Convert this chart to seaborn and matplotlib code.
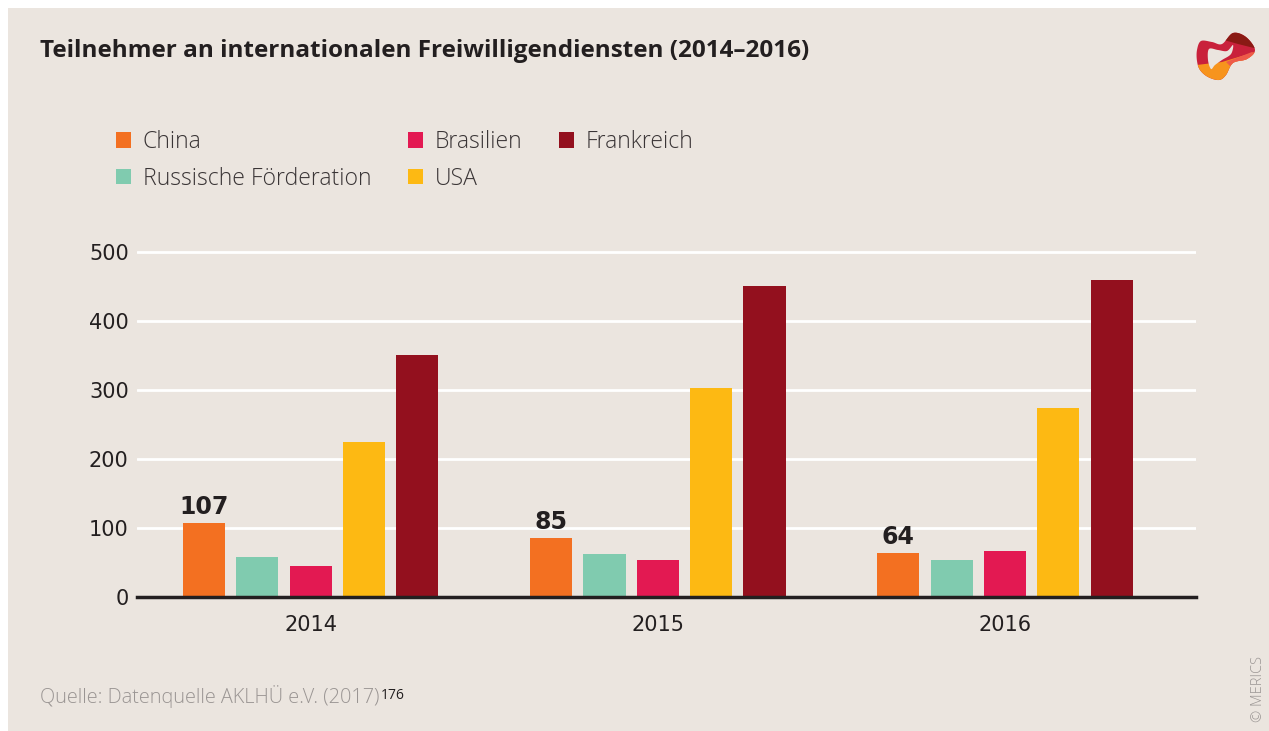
import numpy as np
import pandas as pd
import matplotlib
matplotlib.use("Agg")
import matplotlib.pyplot as plt
from matplotlib.patches import Rectangle, Patch, Polygon
import seaborn as sns

# Werte
jahre = ["2014", "2015", "2016"]
laender = ["China", "Russische Förderation", "Brasilien", "USA", "Frankreich"]
china = [107, 85, 64]
russland = [58, 62, 53]
brasilien = [45, 53, 67]
usa = [225, 303, 274]
frankreich = [350, 451, 459]
farben = ["#F37021", "#80CBAF", "#E31952", "#FDB913", "#93101E"]

werte = [china, russland, brasilien, usa, frankreich]
df = pd.DataFrame({
    "Jahr": np.tile(jahre, len(laender)),
    "Land": np.repeat(laender, len(jahre)),
    "Teilnehmer": np.concatenate(werte),
})

sns.set_style("white")
plt.rcParams["font.family"] = ["DejaVu Sans"]

bg = "#EBE5DF"
dunkel = "#231F20"
grau = "#9A9593"
W, H = 1269, 731

fig = plt.figure(figsize=(12.69, 7.31), dpi=100, facecolor="white")
fig.patches.append(Rectangle((8 / W, 0), 1, 723 / H, transform=fig.transFigure,
                             facecolor=bg, edgecolor="none", zorder=-10))

ax = fig.add_axes([137 / W, 134 / H, (1196 - 137) / W, 352 / H])
ax.patch.set_alpha(0)

sns.barplot(data=df, x="Jahr", y="Teilnehmer", hue="Land", hue_order=laender,
            palette=farben, saturation=1, width=0.768, gap=0.21, linewidth=0,
            errorbar=None, legend=False, ax=ax)

ax.set_xlim(-0.5, 2.55)
ax.set_ylim(0, 510)
ax.set_yticks(range(0, 501, 100))
ax.yaxis.grid(True, color="white", lw=2)
ax.xaxis.grid(False)
ax.set_axisbelow(True)
for s in ["top", "right", "left"]:
    ax.spines[s].set_visible(False)
ax.spines["bottom"].set_color(dunkel)
ax.spines["bottom"].set_linewidth(2.5)
ax.spines["bottom"].set_zorder(5)
ax.tick_params(axis="both", length=0, labelsize=15, labelcolor=dunkel)
ax.tick_params(axis="y", pad=6)
ax.tick_params(axis="x", pad=13)
ax.set_xlabel("")
ax.set_ylabel("")

ax.bar_label(ax.containers[0], padding=3, fontsize=17, fontweight="bold", color=dunkel)

fig.text(40 / W, 1 - 51 / H, "Teilnehmer an internationalen Freiwilligendiensten (2014–2016)",
         fontsize=17.5, fontweight="bold", color=dunkel, va="center", ha="left",
         family=["Open Sans", "DejaVu Sans"])

handles = [Patch(facecolor=c, edgecolor="none") for c in farben]
fig.legend(handles, laender, ncol=3, loc="upper left", bbox_to_anchor=(107 / W, 1 - 121 / H),
           frameon=False, borderaxespad=0, handlelength=0.65, handleheight=0.65, handletextpad=0.5,
           columnspacing=1.6, labelspacing=0.55, labelcolor="#3A3536",
           prop={"family": ["Open Sans", "DejaVu Sans"], "weight": "light", "size": 16.6})

t = fig.text(40 / W, 1 - 697 / H, "Quelle: Datenquelle AKLHÜ e.V. (2017)", fontsize=14.3,
             color=grau, va="center", ha="left", family=["Open Sans", "DejaVu Sans"],
             fontweight="light")
ax.annotate("176", xy=(1.003, 0.88), xycoords=t, fontsize=10, color=dunkel, va="top", ha="left",
            family=["Open Sans", "DejaVu Sans"], annotation_clip=False)

fig.text(1258 / W, 1 - 689 / H, "© MERICS", rotation=90, fontsize=10.5, color=grau,
         va="center", ha="center", family=["Open Sans", "DejaVu Sans"], fontweight="light")


# Logo oben rechts, grob nachgezeichnet
def glatt(pts):
    pts = np.asarray(pts, dtype=float)
    n = len(pts)
    out = []
    for i in range(n):
        p0, p1, p2, p3 = pts[i - 1], pts[i], pts[(i + 1) % n], pts[(i + 2) % n]
        for s in np.linspace(0, 1, 16, endpoint=False):
            out.append(0.5 * ((2 * p1) + (-p0 + p2) * s + (2 * p0 - 5 * p1 + 4 * p2 - p3) * s ** 2
                              + (-p0 + 3 * p1 - 3 * p2 + p3) * s ** 3))
    return np.array(out)


lx = fig.add_axes([1190 / W, 1 - 86 / H, 72 / W, 60 / H])
lx.set_xlim(1190, 1262)
lx.set_ylim(86, 26)
lx.axis("off")
aussen = Polygon(glatt([(1197, 50), (1201, 41), (1212, 42), (1222, 44), (1233, 33), (1246, 37),
                        (1255, 50), (1247, 59), (1233, 63), (1226, 75), (1219, 80), (1208, 77),
                        (1200, 70), (1197, 61)]), closed=True, facecolor="#C9213B", edgecolor="none")
lx.add_patch(aussen)
for poly, col in [([(1188, 66), (1222, 62), (1262, 50), (1262, 90), (1188, 90)], "#F7941D"),
                  ([(1226, 24), (1262, 24), (1262, 50), (1238, 44), (1224, 40)], "#8A1A14"),
                  ([(1226, 62), (1252, 52), (1262, 56), (1262, 60), (1230, 66)], "#EE5A4A")]:
    p = Polygon(poly, closed=True, facecolor=col, edgecolor="none")
    lx.add_patch(p)
    p.set_clip_path(aussen)
lx.add_patch(Polygon(glatt([(1209, 49), (1218, 50), (1227, 51), (1233, 45), (1231, 54), (1222, 60),
                            (1215, 65), (1211, 69), (1208, 60)]),
                     closed=True, facecolor=bg, edgecolor="none"))

fig.savefig("out.png", dpi=100, facecolor=fig.get_facecolor())
